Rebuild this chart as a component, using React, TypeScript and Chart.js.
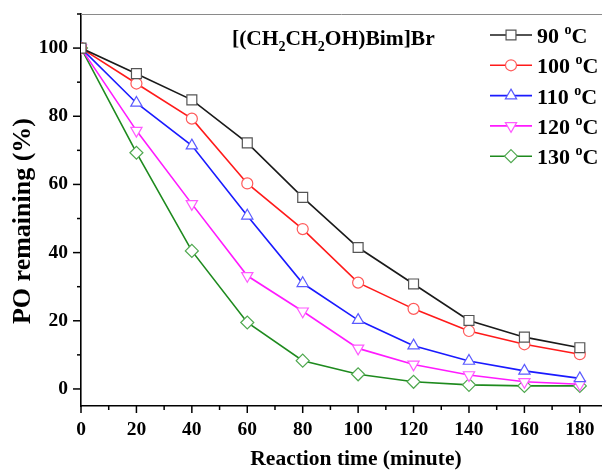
import React, { useEffect, useRef } from 'react';
import { Chart, registerables } from 'chart.js';

Chart.register(...registerables);

// ---- data ----
const times = [0, 20, 40, 60, 80, 100, 120, 140, 160, 180];
const temps = ['90', '100', '110', '120', '130'];
const po90 = [100, 92.5, 84.8, 72.2, 56.2, 41.5, 30.8, 20.1, 15.2, 12.1];
const po100 = [100, 89.6, 79.3, 60.3, 46.9, 31.2, 23.5, 17.0, 13.1, 10.2];
const po110 = [100, 83.9, 71.4, 50.8, 31.0, 20.2, 12.7, 8.2, 5.3, 3.1];
const po120 = [100, 75.8, 54.3, 33.2, 22.8, 11.9, 7.2, 4.1, 2.1, 1.4];
const po130 = [100, 69.3, 40.5, 19.5, 8.3, 4.3, 2.1, 1.2, 0.9, 0.9];
const xTicks = [0, 20, 40, 60, 80, 100, 120, 140, 160, 180];
const yTicks = [0, 20, 40, 60, 80, 100];

const allSeries = [po90, po100, po110, po120, po130];
const lineColors = ['#1a1a1a', '#ff1a1a', '#1a1aff', '#ff1aff', '#1e8a1e'];
const markColors = ['#555555', '#ff5a5a', '#5a5aff', '#ff5aff', '#4fa84f'];
const styles: any[] = ['rect', 'circle', 'triangle', 'triangle', 'rectRot'];
const rotations = [0, 0, 0, 180, 0];
const radii = [7, 5.5, 6.5, 6.5, 6.5];

const SERIF = '"Liberation Serif", "Times New Roman", serif';

function drawRich(ctx: CanvasRenderingContext2D, parts: { t: string; s: number; dy: number }[], x: number, y: number) {
  let cx = x;
  for (const p of parts) {
    ctx.font = `bold ${p.s}px ${SERIF}`;
    ctx.fillText(p.t, cx, y + p.dy);
    cx += ctx.measureText(p.t).width;
  }
}

function drawMarker(ctx: CanvasRenderingContext2D, i: number, x: number, y: number) {
  const r = radii[i];
  ctx.beginPath();
  if (i === 0) {
    const s = r * Math.SQRT1_2;
    ctx.rect(x - s, y - s, 2 * s, 2 * s);
  } else if (i === 1) {
    ctx.arc(x, y, r, 0, Math.PI * 2);
  } else if (i === 2) {
    ctx.moveTo(x, y - r);
    ctx.lineTo(x + r * 0.866, y + r * 0.5);
    ctx.lineTo(x - r * 0.866, y + r * 0.5);
    ctx.closePath();
  } else if (i === 3) {
    ctx.moveTo(x, y + r);
    ctx.lineTo(x + r * 0.866, y - r * 0.5);
    ctx.lineTo(x - r * 0.866, y - r * 0.5);
    ctx.closePath();
  } else {
    ctx.moveTo(x, y - r);
    ctx.lineTo(x + r, y);
    ctx.lineTo(x, y + r);
    ctx.lineTo(x - r, y);
    ctx.closePath();
  }
  ctx.fillStyle = '#fff';
  ctx.fill();
  ctx.strokeStyle = markColors[i];
  ctx.lineWidth = 1.2;
  ctx.stroke();
}

const decorPlugin = {
  id: 'decor',
  afterDraw(chart: any) {
    const { ctx, chartArea: ca, scales } = chart;
    const x = scales.x;
    const y = scales.y;
    ctx.save();
    // top frame line
    ctx.strokeStyle = '#8a8a8a';
    ctx.lineWidth = 1;
    ctx.beginPath();
    ctx.moveTo(ca.left, ca.top + 0.5);
    ctx.lineTo(ca.right, ca.top + 0.5);
    ctx.stroke();
    // tick marks
    ctx.strokeStyle = '#000';
    ctx.lineWidth = 1.5;
    for (let v = 0; v <= x.max; v += 10) {
      const px = x.getPixelForValue(v);
      const len = v % 20 === 0 ? 7 : 4;
      ctx.beginPath();
      ctx.moveTo(px, ca.bottom);
      ctx.lineTo(px, ca.bottom + len);
      ctx.stroke();
    }
    for (let v = 0; v <= y.max; v += 10) {
      const py = y.getPixelForValue(v);
      const len = v % 20 === 0 ? 8 : 4;
      ctx.beginPath();
      ctx.moveTo(ca.left, py);
      ctx.lineTo(ca.left - len, py);
      ctx.stroke();
    }
    // axis titles
    ctx.fillStyle = '#000';
    ctx.textAlign = 'center';
    ctx.textBaseline = 'alphabetic';
    ctx.font = `bold 21.5px ${SERIF}`;
    ctx.fillText('Reaction time (minute)', 356, 465);
    ctx.save();
    ctx.translate(23, 221);
    ctx.rotate(-Math.PI / 2);
    ctx.textBaseline = 'middle';
    ctx.font = `bold 26px ${SERIF}`;
    ctx.fillText('PO remaining (%)', 0, 0);
    ctx.restore();
    // inner title with subscripts
    ctx.textAlign = 'left';
    ctx.textBaseline = 'alphabetic';
    drawRich(ctx, [
      { t: '[(CH', s: 21.5, dy: 0 },
      { t: '2', s: 14, dy: 6 },
      { t: 'CH', s: 21.5, dy: 0 },
      { t: '2', s: 14, dy: 6 },
      { t: 'OH)Bim]Br', s: 21.5, dy: 0 },
    ], 232, 45);
    // legend
    for (let i = 0; i < temps.length; i++) {
      const base = 43 + i * 30.3;
      const ly = base - 8;
      ctx.strokeStyle = lineColors[i];
      ctx.lineWidth = 1.6;
      ctx.beginPath();
      ctx.moveTo(490, ly);
      ctx.lineTo(532, ly);
      ctx.stroke();
      drawMarker(ctx, i, 511, ly);
      ctx.fillStyle = '#000';
      drawRich(ctx, [
        { t: temps[i] + ' ', s: 22, dy: 0 },
        { t: 'o', s: 14, dy: -9 },
        { t: 'C', s: 22, dy: 0 },
      ], 537, base);
    }
    ctx.restore();
  },
};

export default function App() {
  const ref = useRef<HTMLCanvasElement | null>(null);
  useEffect(() => {
    if (!ref.current) return;
    const chart = new Chart(ref.current, {
      type: 'line',
      data: {
        datasets: allSeries.map((s, i) => ({
          label: temps[i] + ' °C',
          data: times.map((t, k) => ({ x: t, y: s[k] })),
          borderColor: lineColors[i],
          borderWidth: 1.6,
          backgroundColor: '#ffffff',
          pointBackgroundColor: '#ffffff',
          pointBorderColor: markColors[i],
          pointBorderWidth: 1.2,
          pointStyle: styles[i],
          pointRotation: rotations[i],
          pointRadius: radii[i],
          tension: 0,
          fill: false,
        })),
      },
      options: {
        animation: false,
        responsive: false,
        events: [],
        layout: { autoPadding: false, padding: { top: 14, right: 0, left: 0, bottom: 0 } },
        plugins: { legend: { display: false }, tooltip: { enabled: false } },
        scales: {
          x: {
            type: 'linear',
            min: 0,
            max: 188,
            afterFit: (s: any) => { s.height = 64; s.paddingRight = 0; s.paddingLeft = 0; },
            grid: { display: false, drawTicks: true, tickLength: 7 },
            border: { display: true, color: '#000', width: 1.6 },
            ticks: {
              stepSize: 10,
              includeBounds: false,
              autoSkip: false,
              maxRotation: 0,
              padding: 5,
              color: '#000',
              font: { family: SERIF, size: 19.5, weight: 'bold' },
              callback: (v: any) => (xTicks.includes(Number(v)) ? String(v) : ''),
            },
          },
          y: {
            type: 'linear',
            min: -5,
            max: 110,
            afterFit: (s: any) => { s.width = 81; s.paddingTop = 0; s.paddingBottom = 0; },
            grid: { display: false, drawTicks: true, tickLength: 8 },
            border: { display: true, color: '#000', width: 1.6 },
            ticks: {
              stepSize: 10,
              includeBounds: false,
              autoSkip: false,
              padding: 5,
              color: '#000',
              font: { family: SERIF, size: 19.5, weight: 'bold' },
              callback: (v: any) => (yTicks.includes(Number(v)) ? String(v) : ''),
            },
          },
        },
      } as any,
      plugins: [decorPlugin],
    });
    return () => chart.destroy();
  }, []);
  return (
    <div style={{ position: 'absolute', left: 0, top: 0, width: 602, height: 470, background: '#fff' }}>
      <canvas ref={ref} width={602} height={470} style={{ width: 602, height: 470, display: 'block' }} />
    </div>
  );
}
